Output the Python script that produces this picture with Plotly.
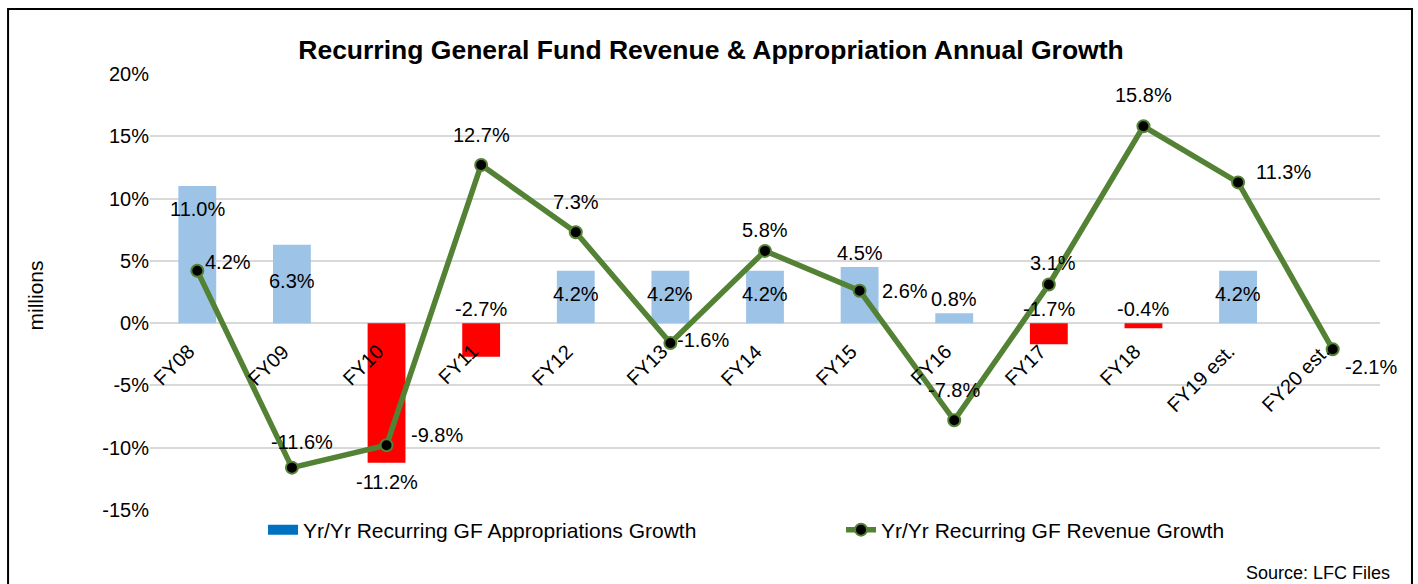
import plotly.graph_objects as go

categories = ["FY08", "FY09", "FY10", "FY11", "FY12", "FY13", "FY14", "FY15",
              "FY16", "FY17", "FY18", "FY19 est.", "FY20 est."]
appropriations_growth = [11.0, 6.3, -11.2, -2.7, 4.2, 4.2, 4.2, 4.5, 0.8, -1.7, -0.4, 4.2, None]
revenue_growth = [4.2, -11.6, -9.8, 12.7, 7.3, -1.6, 5.8, 2.6, -7.8, 3.1, 15.8, 11.3, -2.1]
y_tick_vals = [-15, -10, -5, 0, 5, 10, 15, 20]
y_tick_text = ["-15%", "-10%", "-5%", "0%", "5%", "10%", "15%", "20%"]

# label placement styles (not data)
bar_label_pos = ["insidetop", "center", "below", "above0", "center", "center", "center",
                 "above", "above", "above0", "above0", "center", None]
# revenue labels: anchor side and pixel offsets relative to the marker
line_label_anchor = ["left", "center", "left", "center", "center", "left", "center",
                     "left", "center", "center", "center", "left", "left"]
line_label_dx = [6, 10, 22, 0, 0, 5, 0, 20, 0, 4, 0, 16, 10]
line_label_dy = [9, 26, 10, 30, 30, 3, 21, 0, 30, 22, 31, 10, -18]

POS_COLOR = "#9DC3E6"
NEG_COLOR = "#FF0000"
LINE_COLOR = "#548235"
FONT = "Liberation Sans, Arial, sans-serif"

bar_colors = [POS_COLOR if (v is None or v >= 0) else NEG_COLOR for v in appropriations_growth]

fig = go.Figure()
fig.add_trace(go.Bar(x=categories, y=appropriations_growth, marker=dict(color=bar_colors, line=dict(width=0)),
                     width=0.4, showlegend=False, hoverinfo="skip"))
# legend proxy for appropriations
fig.add_trace(go.Scatter(x=[None], y=[None], mode="lines", line=dict(color="#0070C0", width=10),
                         name="Yr/Yr Recurring GF Appropriations Growth", legend="legend"))
fig.add_trace(go.Scatter(x=categories, y=revenue_growth, mode="lines+markers",
                         line=dict(color=LINE_COLOR, width=5.5),
                         marker=dict(color="black", size=12, line=dict(color=LINE_COLOR, width=2)),
                         name="Yr/Yr Recurring GF Revenue Growth", legend="legend2"))

annotations = []
lab_font = dict(family=FONT, size=20, color="black")

def fmt(v):
    return f"{v:.1f}%"

for c, v, p in zip(categories, appropriations_growth, bar_label_pos):
    if v is None or p is None:
        continue
    if p == "center":
        annotations.append(dict(x=c, y=v / 2, text=fmt(v), showarrow=False, font=lab_font,
                                xanchor="center", yanchor="middle", yshift=3))
    elif p == "insidetop":
        annotations.append(dict(x=c, y=v, text=fmt(v), showarrow=False, font=lab_font,
                                xanchor="center", yanchor="top", yshift=-10))
    elif p == "below":
        annotations.append(dict(x=c, y=v, text=fmt(v), showarrow=False, font=lab_font,
                                xanchor="center", yanchor="top", yshift=-6))
    elif p == "above":
        annotations.append(dict(x=c, y=v, text=fmt(v), showarrow=False, font=lab_font,
                                xanchor="center", yanchor="bottom", yshift=1))
    elif p == "above0":
        annotations.append(dict(x=c, y=0, text=fmt(v), showarrow=False, font=lab_font,
                                xanchor="center", yanchor="bottom", yshift=1))

for c, v, a, dx, dy in zip(categories, revenue_growth, line_label_anchor, line_label_dx, line_label_dy):
    annotations.append(dict(x=c, y=v, text=fmt(v), showarrow=False, font=lab_font,
                            xanchor=a, yanchor="middle", xshift=dx, yshift=dy))

# category labels rotated, sitting under the zero line
for c in categories:
    annotations.append(dict(x=c, y=0, text=c, showarrow=False, textangle=-45,
                            font=dict(family=FONT, size=20, color="black"),
                            xanchor="right", yanchor="top", xshift=4, yshift=-14))

annotations.append(dict(x=-0.0935, y=0.492, xref="paper", yref="paper", text="millions",
                        textangle=-90, showarrow=False,
                        font=dict(family=FONT, size=21, color="black"),
                        xanchor="center", yanchor="middle"))
annotations.append(dict(x=1.0098, y=-0.1445, xref="paper", yref="paper", text="Source: LFC Files",
                        showarrow=False, font=dict(family=FONT, size=18, color="black"),
                        xanchor="right", yanchor="middle"))

legend_style = dict(orientation="h", y=-0.0459, xanchor="left", yanchor="middle",
                    font=dict(family=FONT, size=21, color="black"), bgcolor="rgba(0,0,0,0)")

fig.update_layout(
    width=1418, height=584,
    margin=dict(l=150, r=38, t=74, b=74),
    paper_bgcolor="white", plot_bgcolor="white",
    font=dict(family=FONT, size=20, color="black"),
    title=dict(text="<b>Recurring General Fund Revenue & Appropriation Annual Growth</b>",
               x=711 / 1418, xref="container", xanchor="center", y=1 - 50 / 584, yanchor="middle",
               font=dict(family=FONT, size=26.5, color="black")),
    xaxis=dict(showticklabels=False, showgrid=False, zeroline=False, showline=False,
               range=[-0.5, len(categories) - 0.5], fixedrange=True),
    yaxis=dict(range=[-15, 20], tickvals=y_tick_vals, ticktext=y_tick_text,
               showgrid=True, gridcolor="#D9D9D9", gridwidth=1.5,
               zeroline=True, zerolinecolor="#D9D9D9", zerolinewidth=1.5,
               showline=False, ticks="", ticklen=0,
               tickfont=dict(family=FONT, size=20, color="black")),
    legend=dict(x=0.0919, **legend_style),
    legend2=dict(x=0.5618, **legend_style),
    annotations=annotations,
    shapes=[dict(type="rect", xref="paper", yref="paper",
                 x0=-0.1154, x1=1.026, y0=-0.2, y1=1.149,
                 line=dict(color="black", width=2), fillcolor="rgba(0,0,0,0)", layer="below")],
    bargap=0.6,
)

fig.write_html("out.html", post_script="document.body.style.margin='0';",
               config={"displayModeBar": False})
